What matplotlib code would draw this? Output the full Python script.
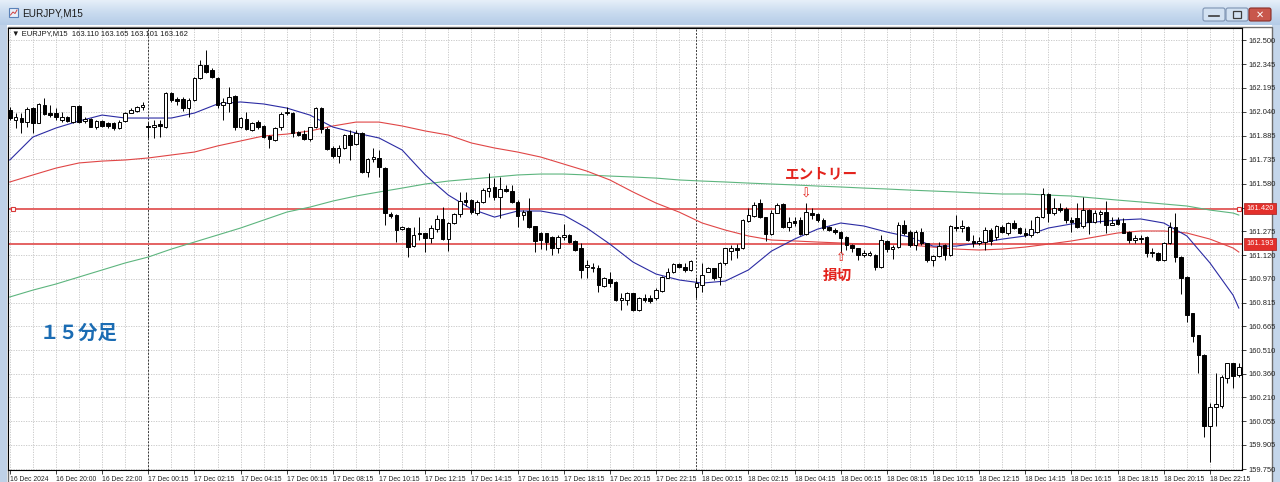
import numpy as np
import matplotlib
matplotlib.use("Agg")
import matplotlib.pyplot as plt
from matplotlib.colors import LinearSegmentedColormap
from matplotlib.patches import Rectangle, FancyBboxPatch
from matplotlib.transforms import blended_transform_factory

plt.rcParams['font.family'] = ['Liberation Sans', 'DejaVu Sans']

# EURJPY M15, 16 Dec 18:00 .. 18 Dec 23:45
open_ = [
    162.051, 161.987, 161.998, 161.976, 162.062, 161.970, 162.083, 162.034, 162.030, 161.987,
    162.009, 161.976, 162.077, 161.981, 161.996, 161.944, 161.981, 161.966, 161.970, 161.934,
    161.981, 162.034, 162.047, 162.068, 161.949, 161.940, 161.961, 161.940, 162.158, 162.120,
    162.120, 162.062, 162.115, 162.254, 162.340, 162.308, 162.254, 162.083, 162.098, 162.141,
    161.940, 161.991, 161.923, 161.976, 161.949, 161.885, 161.859, 161.940, 162.030, 162.034,
    161.912, 161.897, 161.863, 161.940, 162.062, 161.930, 161.805, 161.756, 161.805, 161.891,
    161.833, 161.906, 161.656, 161.735, 161.741, 161.677, 161.385, 161.378, 161.286, 161.293,
    161.179, 161.265, 161.261, 161.229, 161.286, 161.350, 161.222, 161.325, 161.384, 161.474,
    161.474, 161.389, 161.464, 161.534, 161.560, 161.491, 161.545, 161.534, 161.463, 161.378,
    161.406, 161.307, 161.262, 161.260, 161.239, 161.164, 161.239, 161.250, 161.211, 161.164,
    161.047, 161.036, 161.040, 160.925, 160.966, 160.951, 160.834, 160.833, 160.876, 160.769,
    160.844, 160.848, 160.844, 160.891, 160.976, 161.010, 161.062, 161.047, 161.025, 160.919,
    160.930, 161.015, 161.036, 160.983, 161.068, 161.150, 161.165, 161.165, 161.342, 161.372,
    161.453, 161.363, 161.257, 161.393, 161.449, 161.304, 161.340, 161.346, 161.257, 161.389,
    161.385, 161.346, 161.303, 161.282, 161.272, 161.240, 161.186, 161.165, 161.125, 161.122,
    161.122, 161.047, 161.214, 161.158, 161.171, 161.314, 161.270, 161.186, 161.272, 161.197,
    161.090, 161.116, 161.186, 161.122, 161.303, 161.293, 161.303, 161.214, 161.201, 161.208,
    161.282, 161.240, 161.304, 161.265, 161.329, 161.293, 161.265, 161.250, 161.272, 161.368,
    161.513, 161.389, 161.421, 161.415, 161.346, 161.357, 161.308, 161.410, 161.336, 161.385,
    161.400, 161.314, 161.346, 161.325, 161.272, 161.218, 161.231, 161.240, 161.133, 161.137,
    161.090, 161.201, 161.299, 161.111, 160.978, 160.748, 160.609, 160.480, 160.025, 160.145,
    160.154, 160.331, 160.427, 160.355,
]
high = [
    162.073, 162.030, 162.030, 162.073, 162.073, 162.095, 162.126, 162.083, 162.062, 162.041,
    162.015, 162.080, 162.083, 162.004, 162.000, 161.990, 161.985, 161.975, 161.975, 161.985,
    162.041, 162.062, 162.080, 162.105, 161.976, 161.987, 161.987, 162.165, 162.165, 162.137,
    162.132, 162.126, 162.265, 162.372, 162.436, 162.318, 162.260, 162.126, 162.201, 162.147,
    162.005, 162.041, 161.975, 161.985, 161.955, 161.890, 161.945, 162.041, 162.073, 162.040,
    161.918, 161.923, 161.945, 162.068, 162.068, 161.945, 161.820, 161.827, 161.897, 161.923,
    161.923, 161.912, 161.741, 161.805, 161.795, 161.685, 161.395, 161.385, 161.310, 161.300,
    161.303, 161.363, 161.265, 161.314, 161.378, 161.427, 161.335, 161.390, 161.528, 161.528,
    161.480, 161.474, 161.549, 161.645, 161.613, 161.620, 161.570, 161.570, 161.475, 161.410,
    161.485, 161.310, 161.270, 161.265, 161.245, 161.250, 161.320, 161.255, 161.215, 161.196,
    161.090, 161.068, 161.057, 160.980, 161.015, 160.955, 160.876, 160.882, 160.880, 160.852,
    160.870, 160.865, 160.908, 160.990, 161.036, 161.068, 161.072, 161.068, 161.088, 160.983,
    161.068, 161.045, 161.040, 161.079, 161.170, 161.185, 161.190, 161.350, 161.421, 161.464,
    161.479, 161.368, 161.410, 161.453, 161.455, 161.368, 161.368, 161.368, 161.453, 161.421,
    161.389, 161.357, 161.310, 161.293, 161.275, 161.245, 161.190, 161.170, 161.154, 161.145,
    161.127, 161.250, 161.218, 161.186, 161.336, 161.346, 161.282, 161.280, 161.293, 161.200,
    161.122, 161.207, 161.190, 161.315, 161.378, 161.346, 161.310, 161.250, 161.240, 161.304,
    161.293, 161.314, 161.314, 161.336, 161.346, 161.300, 161.293, 161.346, 161.375, 161.549,
    161.517, 161.485, 161.453, 161.432, 161.368, 161.453, 161.496, 161.415, 161.410, 161.410,
    161.470, 161.368, 161.368, 161.357, 161.275, 161.250, 161.250, 161.245, 161.165, 161.140,
    161.205, 161.336, 161.389, 161.115, 160.985, 160.750, 160.612, 160.485, 160.171, 160.363,
    160.352, 160.430, 160.430, 160.430,
]
low = [
    161.987, 161.934, 161.902, 161.940, 161.902, 161.965, 162.019, 162.009, 161.987, 161.976,
    161.975, 161.970, 161.970, 161.966, 161.940, 161.930, 161.940, 161.936, 161.925, 161.930,
    161.975, 162.030, 162.040, 162.051, 161.870, 161.870, 161.880, 161.935, 162.105, 162.083,
    162.047, 162.009, 162.110, 162.248, 162.286, 162.255, 162.062, 161.987, 162.041, 161.923,
    161.935, 161.923, 161.918, 161.930, 161.875, 161.806, 161.850, 161.923, 162.019, 161.880,
    161.885, 161.859, 161.855, 161.935, 161.905, 161.795, 161.741, 161.709, 161.800, 161.731,
    161.827, 161.650, 161.624, 161.720, 161.624, 161.314, 161.360, 161.207, 161.280, 161.111,
    161.175, 161.218, 161.143, 161.196, 161.271, 161.220, 161.149, 161.318, 161.367, 161.436,
    161.384, 161.378, 161.453, 161.491, 161.474, 161.357, 161.528, 161.455, 161.303, 161.346,
    161.293, 161.143, 161.158, 161.154, 161.122, 161.132, 161.218, 161.200, 161.145, 160.972,
    160.972, 161.015, 160.887, 160.920, 160.919, 160.830, 160.769, 160.801, 160.765, 160.765,
    160.818, 160.812, 160.833, 160.885, 160.972, 161.004, 161.036, 161.015, 161.020, 160.844,
    160.887, 161.010, 160.965, 160.930, 161.060, 161.090, 161.100, 161.160, 161.336, 161.368,
    161.357, 161.214, 161.250, 161.390, 161.293, 161.278, 161.308, 161.250, 161.250, 161.351,
    161.336, 161.282, 161.275, 161.257, 161.133, 161.154, 161.143, 161.090, 161.111, 161.115,
    161.026, 161.036, 161.143, 161.094, 161.165, 161.250, 161.171, 161.154, 161.186, 161.079,
    161.051, 161.107, 161.090, 161.115, 161.278, 161.272, 161.210, 161.175, 161.186, 161.154,
    161.186, 161.218, 161.261, 161.250, 161.287, 161.255, 161.240, 161.240, 161.265, 161.357,
    161.336, 161.378, 161.400, 161.325, 161.272, 161.293, 161.293, 161.257, 161.325, 161.325,
    161.261, 161.314, 161.314, 161.261, 161.197, 161.197, 161.197, 161.107, 161.107, 161.085,
    161.085, 161.193, 161.079, 160.871, 160.694, 160.566, 160.363, 159.957, 159.797, 160.025,
    160.139, 160.299, 160.267, 160.340,
]
close = [
    161.998, 162.009, 161.976, 162.056, 161.966, 162.088, 162.026, 162.019, 162.009, 162.009,
    161.981, 162.077, 161.976, 161.991, 161.944, 161.981, 161.949, 161.949, 161.934, 161.976,
    162.034, 162.051, 162.068, 162.083, 161.940, 161.955, 161.949, 162.158, 162.115, 162.111,
    162.062, 162.115, 162.259, 162.340, 162.297, 162.261, 162.083, 162.105, 162.132, 161.940,
    161.998, 161.927, 161.970, 161.940, 161.880, 161.863, 161.938, 162.026, 162.041, 161.906,
    161.891, 161.863, 161.940, 162.062, 161.930, 161.800, 161.756, 161.805, 161.891, 161.827,
    161.906, 161.656, 161.735, 161.752, 161.688, 161.389, 161.372, 161.282, 161.299, 161.175,
    161.250, 161.257, 161.229, 161.293, 161.350, 161.222, 161.329, 161.384, 161.470, 161.464,
    161.399, 161.464, 161.538, 161.549, 161.491, 161.543, 161.534, 161.463, 161.372, 161.399,
    161.299, 161.213, 161.215, 161.207, 161.164, 161.239, 161.250, 161.207, 161.154, 161.025,
    161.057, 161.047, 160.929, 160.976, 160.940, 160.833, 160.844, 160.876, 160.769, 160.848,
    160.834, 160.827, 160.897, 160.983, 161.010, 161.062, 161.047, 161.025, 161.083, 160.940,
    160.993, 161.036, 160.972, 161.068, 161.164, 161.165, 161.154, 161.346, 161.378, 161.443,
    161.368, 161.257, 161.393, 161.443, 161.304, 161.336, 161.330, 161.257, 161.400, 161.378,
    161.346, 161.293, 161.282, 161.272, 161.229, 161.186, 161.165, 161.122, 161.137, 161.137,
    161.047, 161.218, 161.158, 161.171, 161.314, 161.261, 161.186, 161.270, 161.197, 161.090,
    161.116, 161.180, 161.122, 161.308, 161.293, 161.308, 161.218, 161.201, 161.214, 161.282,
    161.214, 161.308, 161.272, 161.325, 161.293, 161.265, 161.250, 161.287, 161.368, 161.513,
    161.389, 161.421, 161.410, 161.346, 161.336, 161.304, 161.410, 161.336, 161.389, 161.400,
    161.314, 161.330, 161.321, 161.265, 161.218, 161.231, 161.225, 161.133, 161.141, 161.090,
    161.201, 161.300, 161.111, 160.972, 160.737, 160.602, 160.480, 160.025, 160.149, 160.166,
    160.342, 160.427, 160.346, 160.406,
]

# moving averages read every 4 bars (plus last bar)
ma_bars = list(range(0, 213, 4)) + [213]
ma_blue = [
    161.731, 161.878, 161.936, 161.981, 162.019, 162.000, 162.000, 162.000, 162.032, 162.090,
    162.103, 162.090, 162.064, 162.019, 161.942, 161.904, 161.872, 161.795, 161.635, 161.506,
    161.417, 161.365, 161.404, 161.404, 161.378, 161.295, 161.192, 161.077, 161.000, 160.962,
    160.942, 160.955, 161.026, 161.147, 161.224, 161.288, 161.327, 161.308, 161.269, 161.237,
    161.179, 161.179, 161.199, 161.224, 161.244, 161.295, 161.321, 161.333, 161.346, 161.353,
    161.327, 161.244, 161.071, 160.865, 160.782,
]
ma_red = [
    161.590, 161.635, 161.679, 161.712, 161.724, 161.731, 161.744, 161.763, 161.782, 161.821,
    161.853, 161.885, 161.897, 161.917, 161.949, 161.974, 161.974, 161.949, 161.917, 161.891,
    161.840, 161.808, 161.782, 161.750, 161.705, 161.660, 161.603, 161.526, 161.455, 161.397,
    161.327, 161.282, 161.244, 161.218, 161.212, 161.205, 161.199, 161.192, 161.192, 161.186,
    161.173, 161.160, 161.154, 161.160, 161.173, 161.192, 161.212, 161.237, 161.263, 161.276,
    161.276, 161.263, 161.224, 161.167, 161.141,
]
ma_green = [
    160.853, 160.897, 160.936, 160.981, 161.026, 161.071, 161.109, 161.160, 161.205, 161.250,
    161.295, 161.346, 161.397, 161.429, 161.468, 161.500, 161.526, 161.551, 161.577, 161.596,
    161.609, 161.622, 161.635, 161.641, 161.641, 161.635, 161.628, 161.622, 161.615, 161.603,
    161.596, 161.590, 161.583, 161.577, 161.571, 161.564, 161.558, 161.551, 161.545, 161.538,
    161.532, 161.526, 161.519, 161.513, 161.513, 161.506, 161.500, 161.487, 161.474, 161.462,
    161.449, 161.436, 161.410, 161.391, 161.378,
]

entry_price = 161.420
stop_price = 161.193
separator_bars = [24, 119]

price_ticks = [162.500, 162.345, 162.195, 162.040, 161.885, 161.735, 161.580, 161.425,
               161.275, 161.120, 160.970, 160.815, 160.665, 160.510, 160.360, 160.210,
               160.055, 159.905, 159.750]
price_labels = ["162.500", "162.345", "162.195", "162.040", "161.885", "161.735", "161.580", "",
                "161.275", "161.120", "160.970", "160.815", "160.665", "160.510", "160.360",
                "160.210", "160.055", "159.905", "159.750"]

time_labels = ["16 Dec 2024", "16 Dec 20:00", "16 Dec 22:00",
               "17 Dec 00:15", "17 Dec 02:15", "17 Dec 04:15", "17 Dec 06:15", "17 Dec 08:15",
               "17 Dec 10:15", "17 Dec 12:15", "17 Dec 14:15", "17 Dec 16:15", "17 Dec 18:15",
               "17 Dec 20:15", "17 Dec 22:15",
               "18 Dec 00:15", "18 Dec 02:15", "18 Dec 04:15", "18 Dec 06:15", "18 Dec 08:15",
               "18 Dec 10:15", "18 Dec 12:15", "18 Dec 14:15", "18 Dec 16:15", "18 Dec 18:15",
               "18 Dec 20:15", "18 Dec 22:15"]
time_label_bars = list(range(0, 209, 8))

W, H = 1280, 482
fig = plt.figure(figsize=(W / 100, H / 100), dpi=100)
fig.patch.set_facecolor('white')

# --- window chrome (pixel coords) ---
bg = fig.add_axes([0, 0, 1, 1], zorder=0)
bg.set_xlim(0, W)
bg.set_ylim(H, 0)
bg.axis('off')
grad = np.linspace(0, 1, 50).reshape(-1, 1)
cm = LinearSegmentedColormap.from_list('tb', ['#e6eff9', '#c9dbef', '#b5cce7'])
bg.imshow(grad, extent=(0, W, 25, 0), aspect='auto', cmap=cm, zorder=0)
bg.add_patch(Rectangle((0, 25), 7, H - 25, fc='#bfd1e7', ec='none'))
bg.add_patch(Rectangle((1272, 25), 8, H - 25, fc='#c4d6eb', ec='none'))
bg.add_patch(Rectangle((7.5, 26.5), 1264, H, fc='white', ec='#6e6e6e', lw=1))
bg.add_patch(Rectangle((9, 8), 9, 9, fc='#e8f0fa', ec='#5a82b8', lw=0.8))
bg.plot([10.5, 13, 15, 17], [15, 12, 13.5, 10], color='#d04040', lw=0.7)
bg.text(22, 13, "EURJPY,M15", fontsize=7.2, va='center', ha='left', color='#1a1a1a')
for bx, fc, ec in [(1203, '#d3e2f2', '#7d93b2'), (1226, '#d3e2f2', '#7d93b2'), (1249, '#c8574c', '#8a2f28')]:
    bg.add_patch(FancyBboxPatch((bx, 8), 22, 13, boxstyle='round,pad=0,rounding_size=2',
                                fc=fc, ec=ec, lw=0.8))
bg.plot([1209, 1219], [16, 16], color='#3c3c3c', lw=1.2)
bg.add_patch(Rectangle((1233, 11), 8, 7, fc='none', ec='#3c3c3c', lw=0.9))
bg.text(1260, 14.5, "✕", fontsize=7, color='white', ha='center', va='center',
        family=['DejaVu Sans'], fontweight='bold')

# --- chart ---
ax = fig.add_axes([8 / W, 1 - 470 / H, (1242 - 8) / W, (470 - 28) / H], zorder=1)
ax.set_facecolor('white')
ax.set_xlim(-0.31, 213.55)
ax.set_ylim(159.744, 162.577)
for s in ax.spines.values():
    s.set_color('black')
    s.set_linewidth(0.8)

vx = blended_transform_factory(ax.transData, ax.transAxes)
hy = blended_transform_factory(ax.transAxes, ax.transData)

grid_kw = dict(color='#c4c4c4', lw=0.6, linestyle=(0, (1.5, 1.5)), zorder=1)
ax.vlines(np.arange(0, 214, 4), 0, 1, transform=vx, **grid_kw)
ax.hlines(price_ticks, 0, 1, transform=hy, **grid_kw)
ax.vlines(separator_bars, 0, 1, transform=vx, color='#3a3a3a', lw=0.7,
          linestyle=(0, (2, 1.5)), zorder=1.5)

ax.axhline(entry_price, color='#e46262', lw=1.4, zorder=2)
ax.axhline(stop_price, color='#e46262', lw=1.4, zorder=2)
ax.plot([0.004, 0.9975], [entry_price, entry_price], transform=hy, ls='none', marker='s',
        ms=3.2, mfc='white', mec='#d83a3a', mew=0.8, zorder=6, clip_on=False)

ax.plot(ma_bars, ma_green, color='#5db57e', lw=0.8, zorder=2.5)
ax.plot(ma_bars, ma_red, color='#e04646', lw=0.8, zorder=2.5)
ax.plot(ma_bars, ma_blue, color='#2b2ba3', lw=0.8, zorder=2.6)

o = np.array(open_)
c = np.array(close)
hi = np.array(high)
lo = np.array(low)
x = np.arange(len(c))
up = c >= o
ax.vlines(x, lo, hi, color='black', lw=0.7, zorder=3)
bottom = np.minimum(o, c)
height = np.maximum(np.abs(c - o), 0.003)
ax.bar(x[up], height[up], bottom=bottom[up], width=0.62, facecolor='white',
       edgecolor='black', linewidth=0.7, zorder=4)
ax.bar(x[~up], height[~up], bottom=bottom[~up], width=0.62, facecolor='black',
       edgecolor='black', linewidth=0.7, zorder=4)

# axes ticks
ax.yaxis.tick_right()
ax.set_yticks(price_ticks)
ax.set_yticklabels(price_labels)
ax.tick_params(axis='y', direction='out', length=3, width=0.6, pad=1.5, labelsize=5.4,
               colors='#222222')
ax.set_xticks(time_label_bars)
ax.set_xticklabels(time_labels, ha='left')
ax.tick_params(axis='x', direction='out', length=3, width=0.6, pad=1.2, labelsize=4.9,
               colors='#222222')

for p, lab in [(entry_price, "161.420"), (stop_price, "161.193")]:
    ax.text(1.0035, p, lab, transform=hy, ha='left', va='center', color='white',
            fontsize=5.4, bbox=dict(boxstyle='square,pad=0.3', fc='#e3302b', ec='#a81b1b', lw=0.5),
            zorder=7, clip_on=False)

ax.text(0.0035, 0.9885, "▼ EURJPY,M15  163.110 163.165 163.101 163.162", transform=ax.transAxes,
        fontsize=5.5, ha='left', va='center', color='#1a1a1a')

jp = ['Noto Sans CJK JP', 'DejaVu Sans']
ax.text(140.6, 161.647, "エントリー", fontsize=10.5, fontweight='bold', color='#e3231d',
        ha='center', va='center', family=jp, zorder=8)
ax.text(143.5, 160.994, "損切", fontsize=10.5, fontweight='bold', color='#e3231d',
        ha='center', va='center', family=jp, zorder=8)
ax.text(138, 161.515, "⇩", fontsize=9, color='#e3231d', ha='center', va='center',
        family=['DejaVu Sans'], zorder=8)
ax.text(144, 161.105, "⇧", fontsize=9, color='#e3231d', ha='center', va='center',
        family=['DejaVu Sans'], zorder=8)
ax.text(5.2, 160.622, "１５分足", fontsize=14, fontweight='bold', color='#1b6cb3',
        ha='left', va='center', family=jp, zorder=8)

fig.savefig('out.png', dpi=100)
